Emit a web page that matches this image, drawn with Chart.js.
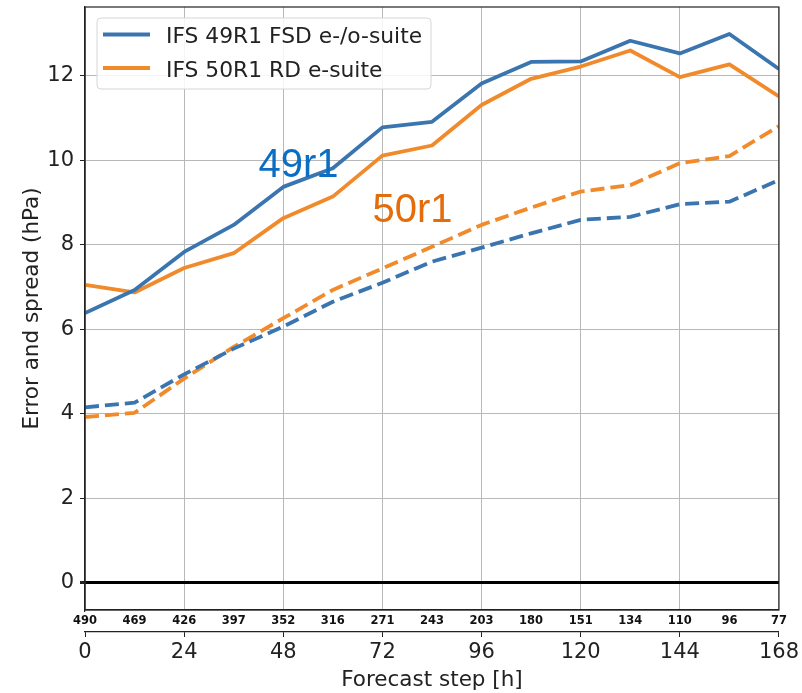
<!DOCTYPE html>
<html>
<head>
<meta charset="utf-8">
<script src="https://cdn.jsdelivr.net/npm/chart.js@4/dist/chart.umd.min.js"></script>
<style>
  html, body { margin: 0; padding: 0; background: #fff; }
</style>
</head>
<body>
<canvas id="chart" width="802" height="693"></canvas>
<script>
// forecast steps (h) and number of cases at each step
const steps = [0, 12, 24, 36, 48, 60, 72, 84, 96, 108, 120, 132, 144, 156, 168];
const caseCounts = [490, 469, 426, 397, 352, 316, 271, 243, 203, 180, 151, 134, 110, 96, 77];

// error (solid) and spread (dashed), hPa
const error49 = [6.38, 6.93, 7.83, 8.47, 9.37, 9.81, 10.78, 10.91, 11.82, 12.33, 12.34, 12.83, 12.53, 12.99, 12.16];
const error50 = [7.05, 6.87, 7.45, 7.80, 8.63, 9.14, 10.11, 10.35, 11.31, 11.93, 12.22, 12.60, 11.97, 12.27, 11.51];
const spread49 = [4.15, 4.26, 4.93, 5.54, 6.06, 6.65, 7.10, 7.60, 7.93, 8.27, 8.59, 8.66, 8.96, 9.02, 9.53];
const spread50 = [3.92, 4.02, 4.83, 5.58, 6.26, 6.93, 7.44, 7.95, 8.47, 8.88, 9.26, 9.41, 9.93, 10.10, 10.81];

const xTicks = [0, 24, 48, 72, 96, 120, 144, 168];
const yTicks = [0, 2, 4, 6, 8, 10, 12];

const blue = '#3a75b0';
const orange = '#f08a2b';
const font = 'DejaVu Sans';

// text labels placed in data coordinates
const notes = [
  { text: '49r1', x: 51.7, y: 9.61, color: '#0a6fc2' },
  { text: '50r1', x: 79.3, y: 8.55, color: '#e46c0a' }
];

const pts = arr => steps.map((s, i) => ({ x: s, y: arr[i] }));

const framePlugin = {
  id: 'frame',
  afterDraw(chart) {
    const { ctx, chartArea: a, scales } = chart;
    ctx.save();
    // annotations
    ctx.font = '40px "Liberation Sans", Arial, sans-serif';
    ctx.textAlign = 'center';
    ctx.textBaseline = 'alphabetic';
    notes.forEach(n => {
      ctx.fillStyle = n.color;
      ctx.fillText(n.text, scales.x.getPixelForValue(n.x), scales.y.getPixelForValue(n.y));
    });
    // box round the axes
    ctx.strokeStyle = '#222';
    ctx.lineWidth = 1.2;
    ctx.strokeRect(a.left, a.top, a.right - a.left, a.bottom - a.top);
    // legend
    const bx = 97, by = 18, bw = 334, bh = 71;
    ctx.beginPath();
    ctx.roundRect(bx, by, bw, bh, 4);
    ctx.fillStyle = 'rgba(255,255,255,0.85)';
    ctx.fill();
    ctx.strokeStyle = '#d6d6d6';
    ctx.lineWidth = 1;
    ctx.stroke();
    const entries = chart.data.datasets.filter(d => d.inLegend);
    ctx.font = '21.8px "' + font + '"';
    ctx.textAlign = 'left';
    entries.forEach((d, i) => {
      const y = 34.5 + i * 33.5;
      ctx.beginPath();
      ctx.moveTo(103, y);
      ctx.lineTo(150, y);
      ctx.strokeStyle = d.borderColor;
      ctx.lineWidth = 4;
      ctx.stroke();
      ctx.fillStyle = '#222';
      ctx.fillText(d.label, 166, y + 8.5);
    });
    ctx.restore();
  }
};

new Chart(document.getElementById('chart'), {
  type: 'line',
  data: {
    datasets: [
      { label: 'IFS 49R1 FSD e-/o-suite', data: pts(error49), borderColor: blue, borderWidth: 3.8, inLegend: true },
      { label: 'IFS 50R1 RD e-suite', data: pts(error50), borderColor: orange, borderWidth: 3.8, inLegend: true },
      { label: '49R1 spread', data: pts(spread49), borderColor: blue, borderWidth: 3.8, borderDash: [14, 6] },
      { label: '50R1 spread', data: pts(spread50), borderColor: orange, borderWidth: 3.8, borderDash: [14, 6] }
    ]
  },
  options: {
    responsive: false,
    animation: false,
    devicePixelRatio: 1,
    layout: { padding: { top: 7, right: 23, left: 0, bottom: 0 } },
    elements: {
      point: { radius: 0 },
      line: { tension: 0, borderCapStyle: 'butt', borderJoinStyle: 'round' }
    },
    plugins: { legend: { display: false }, tooltip: { enabled: false } },
    scales: {
      x: {
        type: 'linear', position: 'bottom', min: 0, max: 168, weight: 1,
        afterBuildTicks: s => { s.ticks = xTicks.map(v => ({ value: v })); },
        afterFit: s => { s.height = 61; },
        grid: { color: '#b8b8b8', lineWidth: 1, tickLength: 5, tickColor: '#222' },
        border: { display: true, color: '#222', width: 1.2 },
        ticks: { font: { family: font, size: 21 }, color: '#222', padding: 3, maxRotation: 0, autoSkip: false },
        title: { display: true, text: 'Forecast step [h]', font: { family: font, size: 21.5 }, color: '#222', padding: { top: 0, bottom: 0 } }
      },
      xCount: {
        type: 'linear', position: 'bottom', min: 0, max: 168, weight: 0,
        afterBuildTicks: s => { s.ticks = steps.map(v => ({ value: v })); },
        afterFit: s => { s.height = 22; },
        grid: { display: false, drawTicks: false },
        border: { display: true, color: '#222', width: 1.2 },
        ticks: {
          font: { family: font, size: 11.5, weight: 'bold' }, color: '#111', padding: 4,
          maxRotation: 0, autoSkip: false,
          callback: (v, i) => caseCounts[i]
        }
      },
      y: {
        min: -0.65, max: 13.63,
        afterBuildTicks: s => { s.ticks = yTicks.map(v => ({ value: v })); },
        afterFit: s => { s.width = 85; s.paddingTop = 0; s.paddingBottom = 0; },
        grid: {
          color: c => (c.tick && c.tick.value === 0) ? '#000' : '#b8b8b8',
          lineWidth: c => (c.tick && c.tick.value === 0) ? 3 : 1,
          tickLength: 5, tickColor: '#222'
        },
        border: { display: true, color: '#222', width: 1.2 },
        ticks: { font: { family: font, size: 21 }, color: '#222', padding: 6 },
        title: { display: true, text: 'Error and spread (hPa)', font: { family: font, size: 21.5 }, color: '#222', padding: { top: 20, bottom: 0 } }
      }
    }
  },
  plugins: [framePlugin]
});
</script>
</body>
</html>
